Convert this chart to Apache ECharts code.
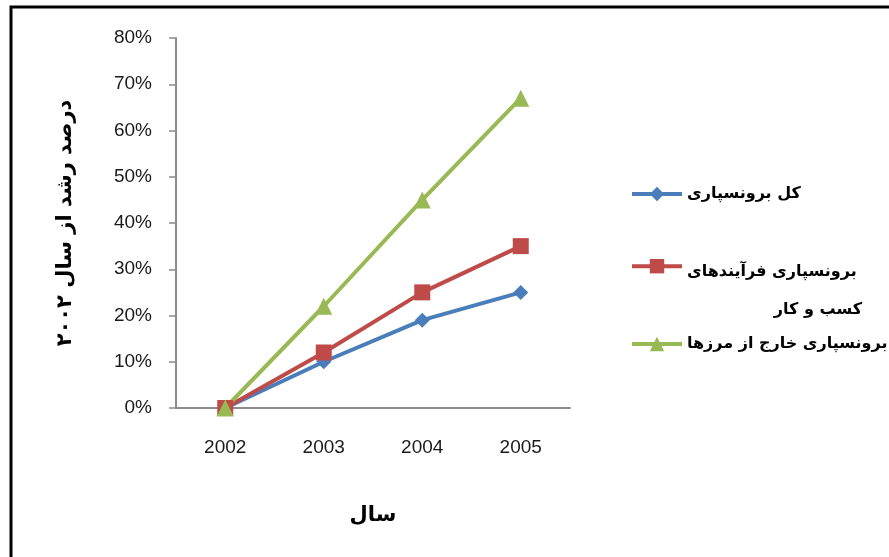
<!DOCTYPE html>
<html><head><meta charset="utf-8">
<script src="https://cdn.jsdelivr.net/npm/echarts@6/dist/echarts.min.js"></script>
<style>html,body{margin:0;padding:0;background:#fff}#c{width:889px;height:557px}</style>
</head><body><div id="c"></div>
<script>
var categories = ['2002', '2003', '2004', '2005'];
var seriesNames = ['کل برونسپاری', 'برونسپاری فرآیندهای کسب و کار', 'برونسپاری خارج از مرزها'];
var totalOutsourcing = [0, 10, 19, 25];
var processOutsourcing = [0, 12, 25, 35];
var offshoreOutsourcing = [0, 22, 45, 67];
var yTicks = [0, 10, 20, 30, 40, 50, 60, 70, 80];
var yTitle = 'درصد رشد از سال ۲۰۰۲';
var xTitle = 'سال';

var faFont = '"DejaVu Sans", "Noto Sans", sans-serif';
var numFont = '"Liberation Sans", Arial, sans-serif';
var colors = ['#4a7ebb', '#be4b48', '#98b954'];

var chart = echarts.init(document.getElementById('c'), null, {renderer: 'canvas'});
var legendText = {fontFamily: faFont, fontWeight: 'bold', fontSize: 16, color: '#000'};
chart.setOption({
  animation: false,
  color: colors,
  grid: {left: 176, right: 319, top: 38, bottom: 149},
  graphic: [
    {type: 'rect', shape: {x: 11, y: 7, width: 1200, height: 1200}, style: {fill: 'none', stroke: '#000', lineWidth: 3}, silent: true},
    {type: 'text', right: 889 - 862, top: 302, style: {text: 'کسب و کار', fontFamily: faFont, fontWeight: 'bold', fontSize: 16, fill: '#000', align: 'right'}}
  ],
  legend: [
    {data: [seriesNames[0]], left: 625, top: 181, itemWidth: 50, itemHeight: 18, itemGap: 0, lineStyle: {width: 4}, textStyle: legendText},
    {data: [seriesNames[1]], left: 625, top: 254, itemWidth: 50, itemHeight: 18, itemGap: 0, lineStyle: {width: 4},
     formatter: function () { return '{t|برونسپاری فرآیندهای}'; },
     textStyle: Object.assign({}, legendText, {rich: {t: Object.assign({}, legendText, {padding: [12, 0, 0, 0]})}})},
    {data: [seriesNames[2]], left: 625, top: 331, itemWidth: 50, itemHeight: 18, itemGap: 0, lineStyle: {width: 4}, textStyle: legendText}
  ],
  xAxis: {
    type: 'category', data: categories, boundaryGap: true,
    name: xTitle, nameLocation: 'middle', nameGap: 97,
    nameTextStyle: {fontFamily: faFont, fontWeight: 'bold', fontSize: 21, color: '#000'},
    axisLine: {lineStyle: {color: '#8c8c8c', width: 2}},
    axisTick: {show: false},
    axisLabel: {margin: 30, fontFamily: numFont, fontSize: 19, color: '#1a1a1a'},
    splitLine: {show: false}
  },
  yAxis: {
    type: 'value', min: 0, max: 80, interval: 10,
    name: yTitle, nameLocation: 'middle', nameGap: 100, nameRotate: 90,
    nameTextStyle: {fontFamily: faFont, fontWeight: 'bold', fontSize: 21, color: '#000'},
    axisLine: {show: true, lineStyle: {color: '#8c8c8c', width: 2}},
    axisTick: {show: true, length: 7, lineStyle: {color: '#8c8c8c', width: 1.5}},
    axisLabel: {margin: 24, fontFamily: numFont, fontSize: 19, color: '#1a1a1a', formatter: '{value}%'},
    splitLine: {show: false}
  },
  series: [
    {name: seriesNames[0], type: 'line', data: totalOutsourcing, symbol: 'diamond', symbolSize: 15, lineStyle: {width: 4}, itemStyle: {color: colors[0]}},
    {name: seriesNames[1], type: 'line', data: processOutsourcing, symbol: 'rect', symbolSize: 16, lineStyle: {width: 4}, itemStyle: {color: colors[1]}},
    {name: seriesNames[2], type: 'line', data: offshoreOutsourcing, symbol: 'triangle', symbolSize: 17, lineStyle: {width: 4}, itemStyle: {color: colors[2]}}
  ]
});
</script></body></html>
